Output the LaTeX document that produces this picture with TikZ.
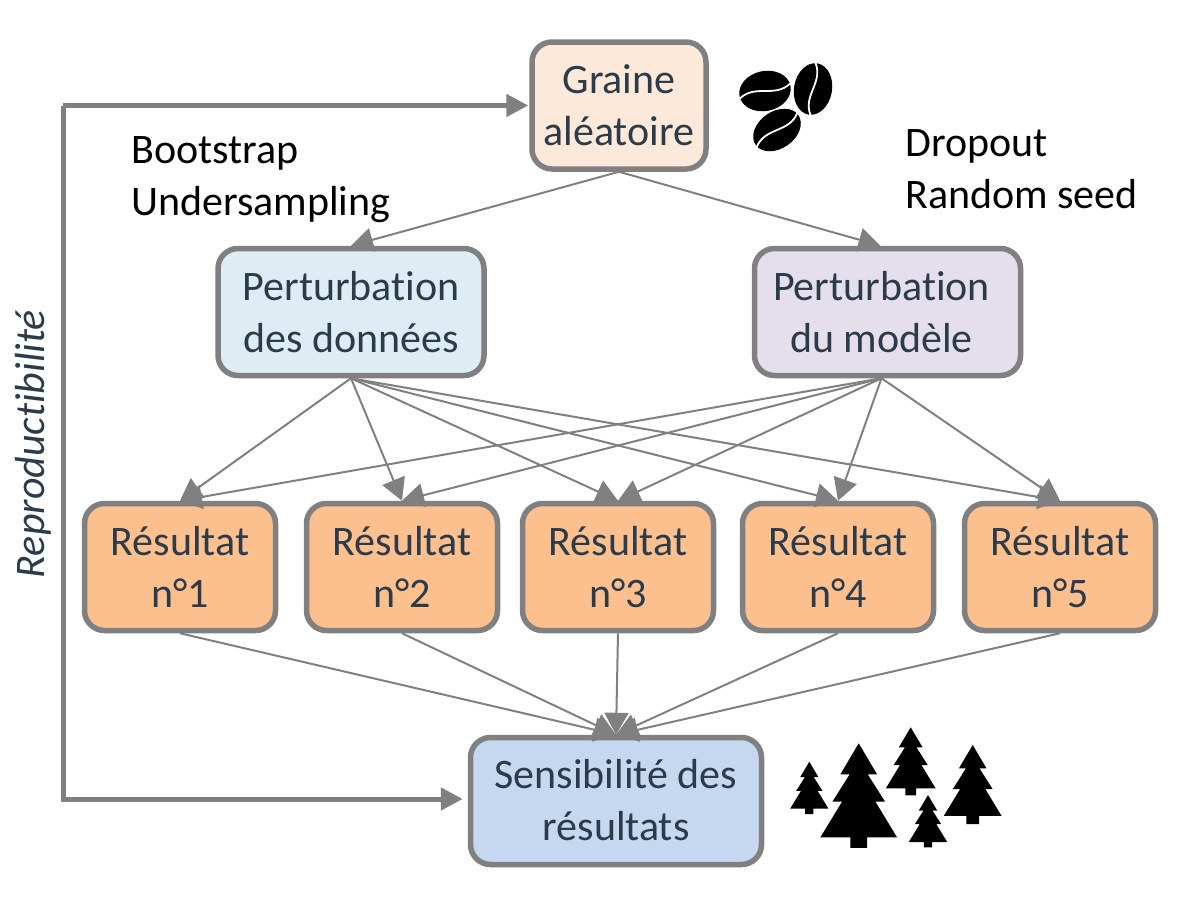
\documentclass[tikz,border=0pt]{standalone}
\usepackage{fontspec}
\setmainfont{Carlito}[Ligatures=CommonOff]
\usetikzlibrary{arrows.meta}
\definecolor{edge}{HTML}{808080}
\definecolor{ink}{HTML}{2C3B4A}
\definecolor{seedfill}{HTML}{FCE9DA}
\definecolor{datafill}{HTML}{DEECF3}
\definecolor{modelfill}{HTML}{E5DFEC}
\definecolor{resfill}{HTML}{FBC08E}
\definecolor{sensfill}{HTML}{C6D8F0}
\tikzset{
  x=1pt,y=-1pt,
  basebox/.style={draw=edge,line width=5.5pt,rounded corners=20pt,align=center,text=ink,
    font=\fontsize{42}{52}\selectfont,inner sep=0pt,minimum height=127pt},
  seedbox/.style={basebox,fill=seedfill,minimum width=174pt},
  pertbox/.style={basebox,fill=#1,minimum width=266pt},
  resbox/.style={basebox,fill=resfill,minimum width=191pt},
  sensbox/.style={basebox,fill=sensfill,minimum width=291pt},
  thin link/.style={draw=edge,line width=2pt,-{Triangle[length=22pt,width=24pt]}},
  thick link/.style={draw=edge,line width=5pt,-{Triangle[length=22pt,width=22pt]}},
  caption/.style={anchor=west,align=left,text=black,inner sep=0pt,font=\fontsize{42}{52}\selectfont},
}
\newcommand{\mytree}[3]{%
  \fill[black,shift={(#1,#2)},x=#3pt/3,y=-#3pt/3]
    (0,0)--(55,93)--(27,93)--(79,175)--(50,175)--(115,282)--(25,282)--(25,314)--(-25,314)--(-25,282)
    --(-115,282)--(-50,175)--(-79,175)--(-27,93)--(-55,93)--cycle;}
\newcommand{\mybean}[4]{%
  \fill[black,rotate around={#3:(#1,#2)}] (#1,#2) ellipse [x radius=26,y radius=#4];
  \draw[white,line width=1.8pt,rotate around={#3:(#1,#2)},shift={(#1,#2)}]
    (-26,2) .. controls (-8,-9) and (8,9) .. (26,-2);}
\begin{document}
\begin{tikzpicture}
\useasboundingbox (0,0) rectangle (1182,902);
\node[seedbox] (seed) at (619,105.5) {Graine\\aléatoire};
\node[pertbox=datafill] (data) at (351,312) {\raisebox{-2pt}{Perturbation}\\\raisebox{-2pt}{des données}};
\node[pertbox=modelfill] (model) at (887.5,312) {\hspace*{-12pt}\raisebox{1pt}{Perturbation}\\\hspace*{-12pt}\raisebox{1pt}{du modèle}};
\node[resbox] (r1) at (180,567) {\raisebox{1pt}{Résultat}\\\raisebox{1pt}{n°1}};
\node[resbox] (r2) at (402,567) {\raisebox{1pt}{Résultat}\\\raisebox{1pt}{n°2}};
\node[resbox] (r3) at (618,567) {\raisebox{1pt}{Résultat}\\\raisebox{1pt}{n°3}};
\node[resbox] (r4) at (838,567) {\raisebox{1pt}{Résultat}\\\raisebox{1pt}{n°4}};
\node[resbox] (r5) at (1060,567) {\raisebox{1pt}{Résultat}\\\raisebox{1pt}{n°5}};
\node[sensbox] (sens) at (616,801) {\raisebox{3pt}{Sensibilité des}\\\raisebox{3pt}{résultats}};
\node[caption] (boot) at (131,179.5) {Bootstrap\\Undersampling};
\node[caption] (drop) at (905,169) {Dropout\\Random seed};
\node[rotate=90,text=ink,font=\fontsize{42}{52}\selectfont\itshape] (repro) at (33,444) {Reproductibilité};
\draw[thin link] (seed.south) -- (data.north);
\draw[thin link] (seed.south) -- ([xshift=-7pt]model.north);
\foreach \t in {r1,r2,r3,r4,r5} \draw[thin link] (data.south) -- (\t.north);
\foreach \t in {r1,r2,r3,r4,r5} \draw[thin link] ([xshift=-6pt]model.south) -- (\t.north);
\foreach \s in {r1,r2,r3,r4,r5} \draw[thin link] (\s.south) -- (sens.north);
\coordinate (ctop) at (63,105.5);
\coordinate (cbot) at (63,799);
\coordinate (send) at (sens.west |- cbot);
\draw[thick link,shorten >=1pt] (ctop) -- (seed.west);
\draw[thick link,shorten >=5pt] (ctop) -- (cbot) -- (send);
\mybean{765}{91}{12}{20}
\mybean{813}{89}{80}{19}
\mybean{777}{130}{35}{18.5}
\mytree{858.7}{743.3}{1}
\mytree{809.3}{761.7}{.5}
\mytree{910.7}{727.3}{.65}
\mytree{928}{795}{.5}
\mytree{972.7}{745}{.755}
\end{tikzpicture}
\end{document}
